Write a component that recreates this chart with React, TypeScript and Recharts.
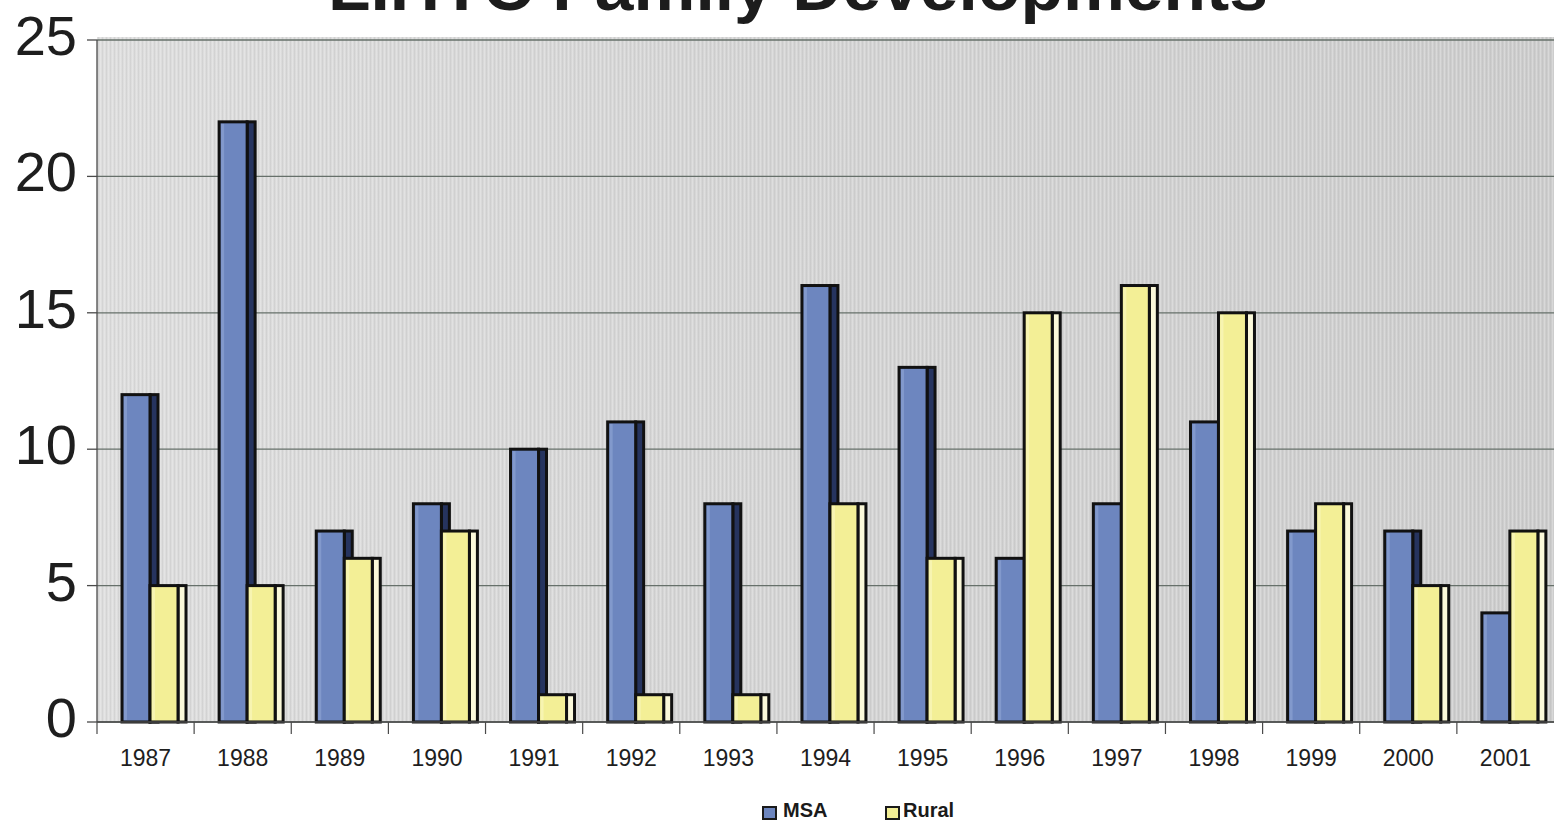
import React from "react";
import { BarChart, Bar, XAxis, YAxis, CartesianGrid } from "recharts";

// LIHTC family developments by year, split by MSA and rural location
const years = ["1987", "1988", "1989", "1990", "1991", "1992", "1993", "1994", "1995", "1996", "1997", "1998", "1999", "2000", "2001"];
const msa = [12, 22, 7, 8, 10, 11, 8, 16, 13, 6, 8, 11, 7, 7, 4];
const rural = [5, 5, 6, 7, 1, 1, 1, 8, 6, 15, 16, 15, 8, 5, 7];
const yTicks = [0, 5, 10, 15, 20, 25];

const data = years.map((year, i) => ({ year, MSA: msa[i], Rural: rural[i] }));

const W = 1554;
const H = 822;
const PLOT_LEFT = 97;
const PLOT_TOP = 40;
const PLOT_BOTTOM = 722;
const BAND = (W - PLOT_LEFT) / years.length;
const FONT = "Arial, 'Liberation Sans', Helvetica, sans-serif";

const MSA_FRONT = "#6d86bf";
const MSA_SIDE = "#26345f";
const RURAL_FRONT = "#f3ef96";
const RURAL_SIDE = "#fbf9da";

// bar with a shallow side face to give the extruded look
const makeBarShape = (front: string, side: string, highlight: string) => (props: any) => {
  const { x, y, width, height } = props;
  if (height <= 0) return <g />;
  const dx = x + 4;
  const depth = 8;
  return (
    <g>
      <rect x={dx + width} y={y} width={depth} height={height} fill={side} stroke="#111111" strokeWidth={3} />
      <rect x={dx} y={y} width={width} height={height} fill={front} stroke="#111111" strokeWidth={3} />
      <rect x={dx + 2} y={y + 2} width={3} height={Math.max(0, height - 4)} fill={highlight} opacity={0.35} />
    </g>
  );
};

const XTick = (props: any) => {
  const { x, y, payload } = props;
  const left = x - BAND / 2;
  return (
    <g>
      <line x1={left} y1={y - 8} x2={left} y2={y + 4} stroke="#4a4a4a" strokeWidth={1.2} />
      <text x={x} y={y + 36} textAnchor="middle" fontFamily={FONT} fontSize={23} fill="#1e1e1e">
        {payload.value}
      </text>
    </g>
  );
};

const YTick = (props: any) => {
  const { x, y, payload } = props;
  return (
    <text x={x} y={y + 15} textAnchor="end" fontFamily={FONT} fontSize={56} fill="#1e1e1e">
      {payload.value}
    </text>
  );
};

const LegendItem = ({ color, label, left, textLeft }: { color: string; label: string; left: number; textLeft: number }) => (
  <>
    <div
      style={{
        position: "absolute",
        left,
        top: 806,
        width: 11,
        height: 10,
        background: color,
        border: "2.5px solid #1a1a1a",
      }}
    />
    <div
      style={{
        position: "absolute",
        left: textLeft,
        top: 800,
        fontFamily: FONT,
        fontWeight: 700,
        fontSize: 20,
        lineHeight: "20px",
        color: "#1a1a1a",
      }}
    >
      {label}
    </div>
  </>
);

export default function App() {
  return (
    <div style={{ position: "absolute", left: 0, top: 0, width: W, height: H, background: "#ffffff", overflow: "hidden" }}>
      {/* plot wall: soft grey gradient with a fine vertical texture */}
      <svg style={{ position: "absolute", left: 0, top: 0 }} width={W} height={H}>
        <defs>
          <linearGradient id="wallGrad" x1="0" y1="0" x2="1" y2="0">
            <stop offset="0%" stopColor="#dedede" />
            <stop offset="40%" stopColor="#d6d6d6" />
            <stop offset="100%" stopColor="#cdcdcd" />
          </linearGradient>
          <pattern id="wallStripes" width="4" height="4" patternUnits="userSpaceOnUse">
            <rect x="0" width="1" height="4" fill="#ffffff" opacity="0.22" />
            <rect x="2" width="1" height="4" fill="#8a8a8a" opacity="0.12" />
          </pattern>
        </defs>
        <rect x={PLOT_LEFT} y={PLOT_TOP - 3} width={W - PLOT_LEFT} height={PLOT_BOTTOM - PLOT_TOP + 3} fill="url(#wallGrad)" />
        <rect x={PLOT_LEFT} y={PLOT_TOP - 3} width={W - PLOT_LEFT} height={PLOT_BOTTOM - PLOT_TOP + 3} fill="url(#wallStripes)" />
      </svg>

      <BarChart
        width={W}
        height={H}
        data={data}
        margin={{ top: PLOT_TOP, right: 0, left: 0, bottom: 40 }}
        barGap={0}
        barSize={28}
      >
        <CartesianGrid vertical={false} stroke="#66706a" strokeWidth={1.3} />
        <XAxis
          dataKey="year"
          height={60}
          tickLine={false}
          axisLine={{ stroke: "#4a4a4a", strokeWidth: 1.3 }}
          tick={<XTick />}
          interval={0}
        />
        <YAxis
          width={PLOT_LEFT}
          domain={[0, 25]}
          ticks={yTicks}
          interval={0}
          tickSize={10}
          tickMargin={10}
          tickLine={{ stroke: "#4a4a4a", strokeWidth: 1.3 }}
          axisLine={{ stroke: "#4a4a4a", strokeWidth: 1.3 }}
          tick={<YTick />}
        />
        <Bar dataKey="MSA" fill={MSA_FRONT} isAnimationActive={false} shape={makeBarShape(MSA_FRONT, MSA_SIDE, "#a9bde6")} />
        <Bar dataKey="Rural" fill={RURAL_FRONT} isAnimationActive={false} shape={makeBarShape(RURAL_FRONT, RURAL_SIDE, "#ffffe6")} />
      </BarChart>

      <svg style={{ position: "absolute", left: 0, top: 0 }} width={W} height={40}>
        <text
          x={328}
          y={10}
          textLength={940}
          lengthAdjust="spacingAndGlyphs"
          fontFamily={FONT}
          fontWeight={700}
          fontSize={66}
          fill="#1c1c1c"
        >
          LIHTC Family Developments
        </text>
      </svg>

      <LegendItem color={MSA_FRONT} label="MSA" left={762} textLeft={783} />
      <LegendItem color={RURAL_FRONT} label="Rural" left={885} textLeft={903} />
    </div>
  );
}
